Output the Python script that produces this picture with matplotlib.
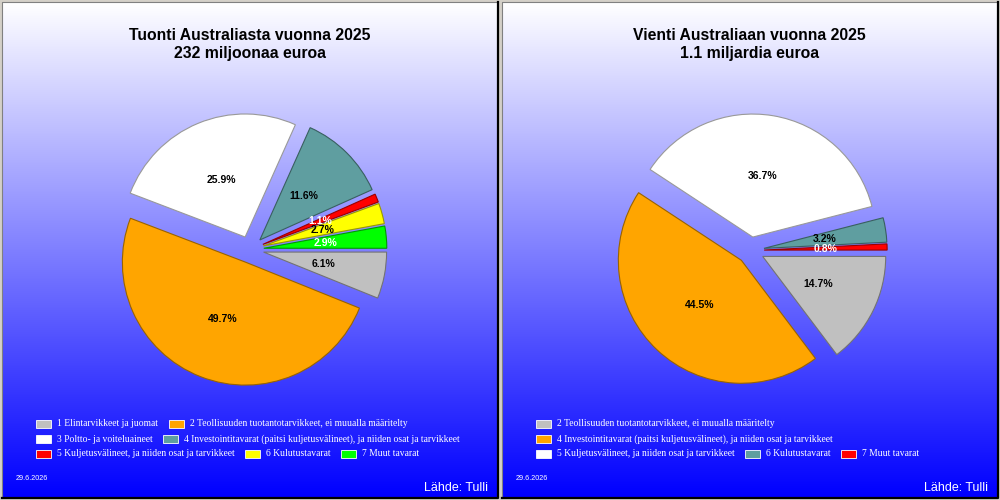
import numpy as np
import matplotlib
matplotlib.use("Agg")
from matplotlib import pyplot as plt
from matplotlib.patches import Rectangle
from matplotlib.colors import to_rgb

# data
left_title = "Tuonti Australiasta vuonna 2025\n232 miljoonaa euroa"
left_labels = ["1 Elintarvikkeet ja juomat",
               "2 Teollisuuden tuotantotarvikkeet, ei muualla määritelty",
               "3 Poltto- ja voiteluaineet",
               "4 Investointitavarat (paitsi kuljetusvälineet), ja niiden osat ja tarvikkeet",
               "5 Kuljetusvälineet, ja niiden osat ja tarvikkeet",
               "6 Kulutustavarat",
               "7 Muut tavarat"]
left_values = [6.1, 49.7, 25.9, 11.6, 1.1, 2.7, 2.9]
left_rows = [[0, 1], [2, 3], [4, 5, 6]]

right_title = "Vienti Australiaan vuonna 2025\n1.1 miljardia euroa"
right_labels = ["2 Teollisuuden tuotantotarvikkeet, ei muualla määritelty",
                "4 Investointitavarat (paitsi kuljetusvälineet), ja niiden osat ja tarvikkeet",
                "5 Kuljetusvälineet, ja niiden osat ja tarvikkeet",
                "6 Kulutustavarat",
                "7 Muut tavarat"]
right_values = [14.7, 44.5, 36.7, 3.2, 0.8]
right_rows = [[0], [1], [2, 3, 4]]

date_text = "29.6.2026"
source_text = "Lähde: Tulli"

palette = ["#C0C0C0", "#FFA500", "#FFFFFF", "#5F9EA0", "#FF0000", "#FFFF00", "#00FF00"]


def darken(c, f=0.6):
    r, g, b = to_rgb(c)
    return (r * f, g * f, b * f)


fig = plt.figure(figsize=(10, 5), dpi=100, facecolor="#D4D0C8")
ax = fig.add_axes([0, 0, 1, 1])
ax.set_xlim(0, 1000)
ax.set_ylim(0, 500)
ax.axis("off")
renderer = fig.canvas.get_renderer()

grad = np.linspace(1, 0, 256)
grad_img = np.stack([grad, grad, np.ones_like(grad)], axis=-1)[:, None, :]


def panel(x0, x1, title, labels, values, rows, cx, cy, R):
    # background + frame
    ax.imshow(grad_img, extent=[x0, x1, 3, 498], aspect="auto", origin="upper", zorder=0)
    ax.plot([x0 - 0.5, x0 - 0.5, x1], [2.5, 498.5, 498.5], color="#808080", lw=0.8, zorder=1)
    ax.plot([x0 - 0.5, x1 + 1, x1 + 1], [2, 2, 498.5], color="black", lw=1.6, zorder=1)

    mid = (x0 + x1) / 2
    ax.text(mid, 455.5, title, ha="center", va="center", fontsize=11.3, fontweight="bold",
            family="Liberation Sans", linespacing=1.3, color="black")

    cols = palette[:len(values)]
    # explode is in data units here (not a fraction), so scale by radius
    wedges, _ = ax.pie(values, colors=cols, startangle=0, counterclock=False,
                       explode=[0.11 * R] * len(values), radius=R, center=(cx, cy),
                       wedgeprops=dict(linewidth=0.8), frame=True)
    for w, v, c in zip(wedges, values, cols):
        w.set_edgecolor(darken(c))
        a = np.deg2rad((w.theta1 + w.theta2) / 2)
        px = w.center[0] + 0.5 * R * np.cos(a)
        py = w.center[1] + 0.5 * R * np.sin(a)
        tc = "white" if c in ("#FF0000", "#00FF00") else "black"
        ax.text(px, py, f"{v:.1f}%", ha="center", va="center", fontsize=7.5,
                fontweight="bold", family="Liberation Sans", color=tc, zorder=5)

    # legend, flowing left to right in each row
    for r, yc in zip(rows, [76, 61, 46]):
        x = x0 + 34
        for i in r:
            ax.add_patch(Rectangle((x, yc - 4), 15, 8, facecolor=cols[i],
                                   edgecolor="white", lw=0.6, zorder=3))
            t = ax.text(x + 21, yc, labels[i], ha="left", va="center", fontsize=6.9,
                        family="Liberation Serif", color="white", zorder=3)
            bb = t.get_window_extent(renderer)
            x = bb.x1 + 10.5

    ax.text(x0 + 14, 21, date_text, ha="left", va="center", fontsize=5.2,
            family="Liberation Sans", color="white")
    ax.text(x1 - 9, 9, source_text, ha="right", va="baseline", fontsize=9,
            family="Liberation Sans", color="white")


panel(2, 497, left_title, left_labels, left_values, left_rows, 250.3, 250.5, 123)
panel(502, 997, right_title, right_labels, right_values, right_rows, 750.6, 249.6, 123)

ax.set_xlim(0, 1000)
ax.set_ylim(0, 500)
ax.set_aspect("auto")
ax.axis("off")

fig.savefig("out.png", dpi=100, facecolor=fig.get_facecolor())
